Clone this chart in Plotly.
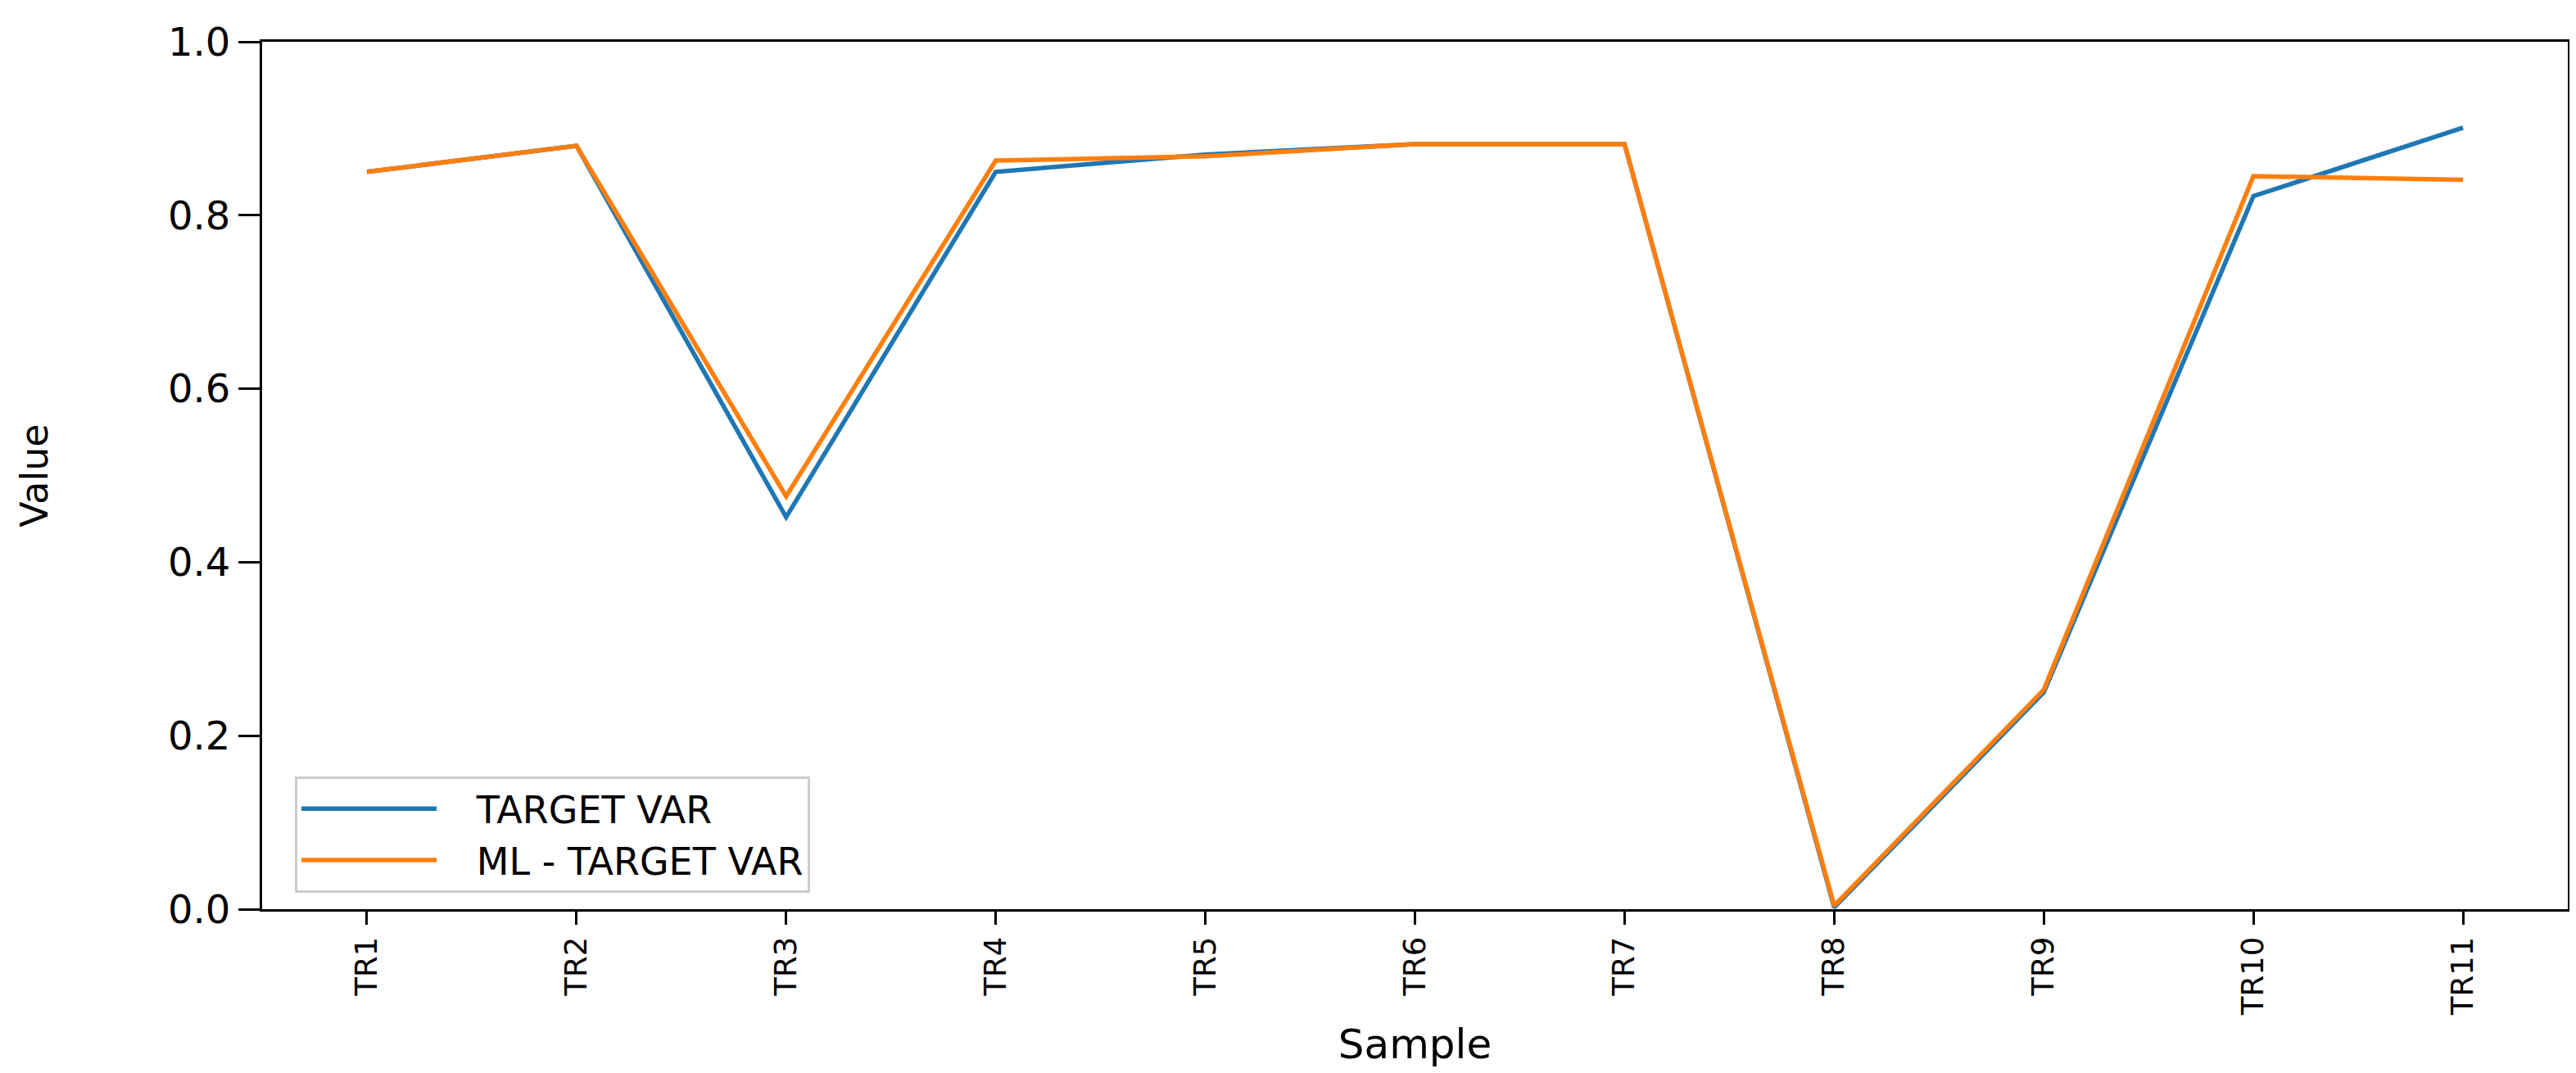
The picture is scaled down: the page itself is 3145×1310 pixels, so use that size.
import plotly.graph_objects as go

samples = ["TR1", "TR2", "TR3", "TR4", "TR5", "TR6", "TR7", "TR8", "TR9", "TR10", "TR11"]
target_var = [0.85, 0.88, 0.452, 0.85, 0.87, 0.882, 0.882, 0.002, 0.25, 0.822, 0.901]
ml_target_var = [0.85, 0.88, 0.476, 0.863, 0.868, 0.882, 0.882, 0.004, 0.253, 0.845, 0.841]
y_ticks = [0.0, 0.2, 0.4, 0.6, 0.8, 1.0]
series_names = ["TARGET VAR", "ML - TARGET VAR"]

FONT = "DejaVu Sans"
GAP = "\u00a0\u00a0\u00a0"

fig = go.Figure()
fig.add_trace(go.Scatter(x=samples, y=target_var, mode="lines", name=GAP + series_names[0],
                         line=dict(color="#1f77b4", width=5.5)))
fig.add_trace(go.Scatter(x=samples, y=ml_target_var, mode="lines", name=GAP + series_names[1],
                         line=dict(color="#ff7f0e", width=5.5)))

fig.update_layout(
    width=3145, height=1310,
    margin=dict(l=312, r=18, t=43, b=208),
    paper_bgcolor="white", plot_bgcolor="white",
    font=dict(family=FONT, color="black"),
    showlegend=True,
    legend=dict(
        x=0.0142, y=0.019, xanchor="left", yanchor="bottom",
        bgcolor="rgba(255,255,255,0.8)", bordercolor="#cccccc", borderwidth=3,
        font=dict(size=46, family=FONT), itemwidth=165,
        tracegroupgap=0,
    ),
    xaxis=dict(
        type="category", range=[-0.5, 10.5],
        showline=True, linecolor="black", linewidth=3, mirror=True,
        ticks="outside", ticklen=16, tickwidth=3, tickcolor="black",
        tickangle=-90, tickfont=dict(size=37, family=FONT),
        showgrid=False, zeroline=False,
        title=dict(text="Sample", font=dict(size=50, family=FONT), standoff=18),
    ),
    yaxis=dict(
        range=[0, 1.0], tickvals=y_ticks, ticktext=[f"{v:.1f}" for v in y_ticks],
        showline=True, linecolor="black", linewidth=3, mirror=True,
        ticks="outside", ticklen=26, tickwidth=3, tickcolor="black",
        tickfont=dict(size=48, family=FONT),
        showgrid=False, zeroline=False,
        title=dict(text="Value", font=dict(size=46, family=FONT), standoff=132),
    ),
)

fig.write_html("out.html")
